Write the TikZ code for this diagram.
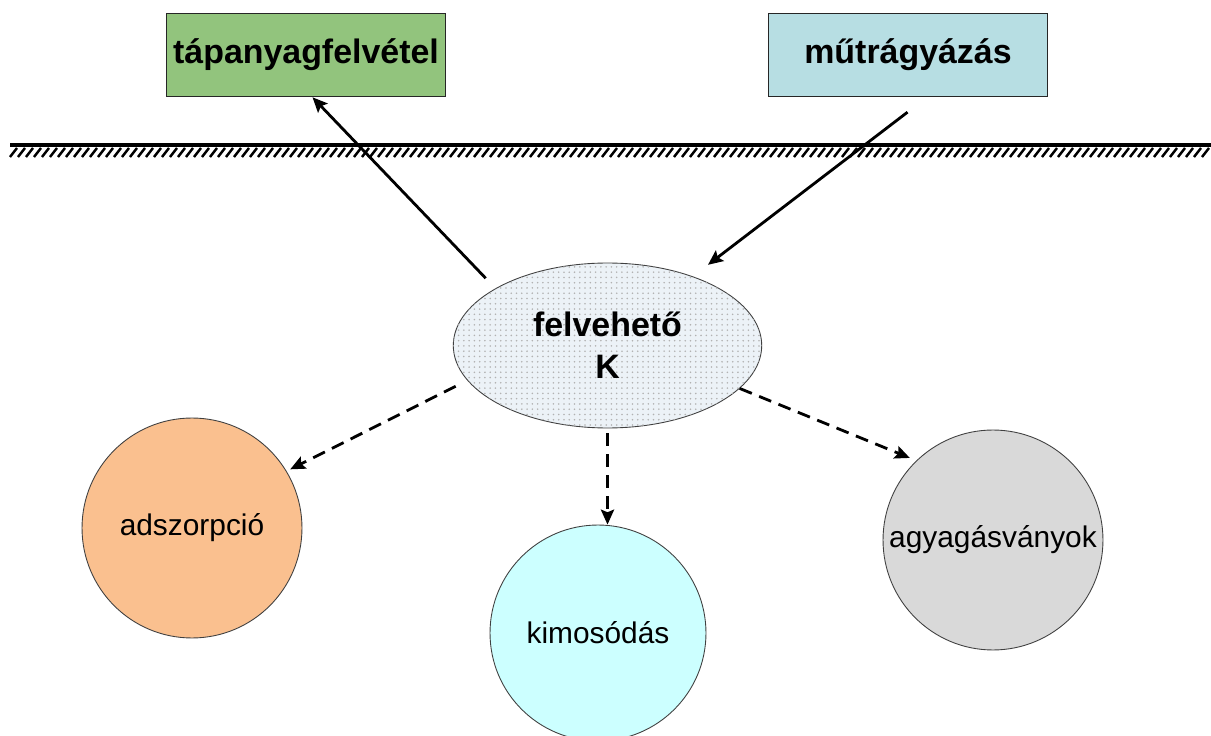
\documentclass[tikz,border=0pt]{standalone}
\usepackage{fontspec}
\setmainfont{Liberation Sans}
\usetikzlibrary{arrows.meta,shapes.geometric,patterns}
\definecolor{uptakegreen}{RGB}{146,196,125}
\definecolor{fertblue}{RGB}{183,222,227}
\definecolor{kfill}{RGB}{236,242,247}
\definecolor{adszorange}{RGB}{250,192,143}
\definecolor{kimoscyan}{RGB}{204,255,255}
\definecolor{agyaggray}{RGB}{217,217,217}
\tikzset{
  topbox/.style={draw=black!85, line width=0.6pt, minimum width=5.58cm, minimum height=1.67cm, inner sep=0pt, font=\fontsize{19.3}{23}\selectfont\bfseries},
  soilcircle/.style={circle, draw=black!75, line width=0.5pt, minimum size=4.4cm, inner sep=0pt, font=\fontsize{17}{20}\selectfont},
  solidarr/.style={-{Stealth[length=8.5pt,width=7.5pt,inset=1.5pt]}, line width=1.6pt},
  dasharr/.style={solidarr, dash pattern=on 7.4pt off 4.5pt}
}
\begin{document}
\begin{tikzpicture}[x=0.02cm,y=-0.02cm]
\useasboundingbox (0,0) rectangle (1211,736);
\clip (0,0) rectangle (1211,736);

\node[topbox, fill=uptakegreen] (upt) at (306,55) {tápanyagfelvétel};
\node[topbox, fill=fertblue] (fert) at (908,55) {műtrágyázás};

\draw[line width=1.8pt] (10,145) -- (1211,145);
\foreach \x in {10,18,...,1206}
  \draw[line width=1.4pt] (\x,157) -- (\x+7,148);

\node[ellipse, draw=black!75, line width=0.5pt, fill=kfill,
  postaction={pattern=dots, pattern color=gray!60},
  minimum width=6.17cm, minimum height=3.3cm, inner sep=0pt, align=center,
  font=\fontsize{19.3}{24}\selectfont\bfseries] (availK) at (607.5,345.5) {felvehető\\K};

\node[soilcircle, fill=adszorange] (adsz) at (192,528) {adszorpció};
\node[soilcircle, fill=kimoscyan, minimum size=4.32cm] (kimos) at (598,633) {kimosódás};
\node[soilcircle, fill=agyaggray] (agyag) at (993,540) {agyagásványok};

\draw[solidarr, shorten <=0.28cm] (availK.153) -- ([xshift=0.13cm]upt.south);
\draw[solidarr, shorten <=0.49cm, shorten >=0.38cm] ([xshift=0.38cm]fert.south) -- (availK.39);
\draw[dasharr, shorten <=0.26cm, shorten >=0.08cm] (availK.194) -- (adsz.31);
\draw[dasharr, shorten <=0.1cm] (availK.south) -- (availK.south |- kimos.north);
\draw[dasharr, shorten >=0.14cm] (availK.342) -- (agyag.134);
\end{tikzpicture}
\end{document}
